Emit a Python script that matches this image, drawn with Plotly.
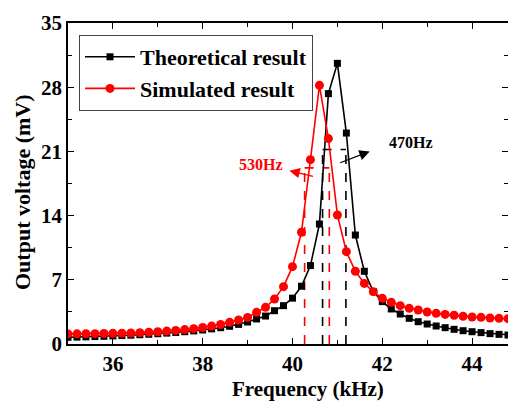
import plotly.graph_objects as go

# ---------------- data ----------------
freq_khz = [round(35.0 + 0.2 * i, 1) for i in range(51)]

theoretical_mv = [0.73, 0.75, 0.78, 0.81, 0.84, 0.88, 0.92, 0.96, 1.01, 1.06,
                  1.12, 1.19, 1.26, 1.34, 1.43, 1.53, 1.65, 1.78, 1.93, 2.14,
                  2.40, 2.73, 3.05, 3.63, 4.18, 5.00, 6.30, 8.55, 13.08, 27.3,
                  30.6, 23.0, 11.88, 7.93, 5.71, 4.62, 3.82, 3.27, 2.80, 2.43,
                  2.18, 1.96, 1.78, 1.60, 1.45, 1.34, 1.24, 1.13, 1.05, 0.98,
                  0.92]

simulated_mv = [1.10, 1.11, 1.12, 1.13, 1.14, 1.16, 1.18, 1.20, 1.24, 1.29,
                1.34, 1.41, 1.48, 1.57, 1.67, 1.80, 1.95, 2.13, 2.36, 2.62,
                2.90, 3.45, 4.00, 4.91, 6.25, 8.43, 12.18, 20.1, 28.2, 22.4,
                14.07, 10.07, 7.93, 6.61, 5.71, 4.98, 4.54, 4.18, 3.89, 3.71,
                3.49, 3.34, 3.23, 3.13, 3.02, 2.94, 2.91, 2.83, 2.80, 2.76,
                2.72]

series_names = ["Theoretical result", "Simulated result"]

# half-power bandwidth markers (kHz edges, level in mV)
theo_band_khz = [40.67, 41.19]
theo_band_level = 21.2
sim_band_khz = [40.27, 40.82]
sim_band_level = 19.2

band_labels = ["470Hz", "530Hz"]
# arrow (tail -> head) in data units
theo_arrow = [(41.03, 19.7), (41.72, 21.0)]
sim_arrow = [(40.49, 18.25), (39.93, 18.9)]
theo_label_pos = (42.64, 21.95)
sim_label_pos = (39.30, 19.6)

x_ticks = [36, 38, 40, 42, 44]
y_ticks = [0, 7, 14, 21, 28, 35]

# ---------------- figure ----------------
FONT = "Liberation Serif"
W, H = 508, 401
L, T, B, R = 68, 23, 57, 0
pw, ph = W - L - R, H - T - B

fig = go.Figure()

def band_trace(edges, level, color):
    xs = [edges[0], edges[0], None, edges[1], edges[1], None, edges[0], edges[1]]
    ys = [0, level, None, 0, level, None, level, level]
    return go.Scatter(x=xs, y=ys, mode="lines", showlegend=False, hoverinfo="skip",
                      line=dict(color=color, width=1.6, dash="dash"))

fig.add_trace(band_trace(theo_band_khz, theo_band_level, "black"))
fig.add_trace(band_trace(sim_band_khz, sim_band_level, "red"))

fig.add_trace(go.Scatter(x=freq_khz, y=theoretical_mv, mode="lines+markers",
                         name=series_names[0],
                         line=dict(color="black", width=1.6),
                         marker=dict(symbol="square", size=7, color="black")))
fig.add_trace(go.Scatter(x=freq_khz, y=simulated_mv, mode="lines+markers",
                         name=series_names[1],
                         line=dict(color="red", width=1.6),
                         marker=dict(symbol="circle", size=9, color="red")))

for (tail, head), col in [(theo_arrow, "black"), (sim_arrow, "red")]:
    fig.add_annotation(x=head[0], y=head[1], ax=tail[0], ay=tail[1],
                       xref="x", yref="y", axref="x", ayref="y",
                       showarrow=True, arrowhead=2, arrowsize=1.6, arrowwidth=1.3,
                       arrowcolor=col, text="")

fig.add_annotation(x=theo_label_pos[0], y=theo_label_pos[1], xref="x", yref="y",
                   text=band_labels[0], showarrow=False,
                   font=dict(family=FONT, size=16, color="black", weight="bold"))
fig.add_annotation(x=sim_label_pos[0], y=sim_label_pos[1], xref="x", yref="y",
                   text=band_labels[1], showarrow=False,
                   font=dict(family=FONT, size=16, color="red", weight="bold"))

# axis titles (pixel centres converted to paper coordinates)
def px_to_paper(px, py):
    return (px - L) / pw, (H - B - py) / ph

xt = px_to_paper(308, 388.5)
yt = px_to_paper(23, 192)
fig.add_annotation(x=xt[0], y=xt[1], xref="paper", yref="paper", text="Frequency (kHz)",
                   xanchor="center", yanchor="middle", showarrow=False, borderpad=0,
                   font=dict(family=FONT, size=21, color="black", weight="bold"))
fig.add_annotation(x=yt[0], y=yt[1], xref="paper", yref="paper", text="Output voltage (mV)",
                   xanchor="center", yanchor="middle", textangle=-90, showarrow=False,
                   font=dict(family=FONT, size=22, color="black", weight="bold"))

axis_common = dict(showline=True, linecolor="black", linewidth=1.5, mirror="allticks",
                   ticks="inside", ticklen=6, tickwidth=1.2, tickcolor="black",
                   showgrid=False, zeroline=False,
                   tickfont=dict(family=FONT, size=21, color="black", weight="bold"))

fig.update_xaxes(range=[35, 44.8], tickvals=x_ticks,
                 minor=dict(dtick=1, tick0=35, ticks="inside", ticklen=4, tickcolor="black"),
                 ticklabelstandoff=0, **axis_common)
fig.update_yaxes(range=[0, 35], tickvals=y_ticks,
                 minor=dict(dtick=3.5, tick0=0, ticks="inside", ticklen=4, tickcolor="black"),
                 ticklabelstandoff=0, **axis_common)

fig.update_layout(
    width=W, height=H,
    margin=dict(l=L, r=R, t=T, b=B, autoexpand=False),
    plot_bgcolor="white", paper_bgcolor="white",
    showlegend=True,
    legend=dict(x=11 / pw, y=(H - B - 35) / ph, xanchor="left", yanchor="top",
                bordercolor="#444", borderwidth=1, bgcolor="white",
                font=dict(family=FONT, size=22, color="black", weight="bold"),
                itemwidth=50, tracegroupgap=0),
)

fig.write_html("out.html")
